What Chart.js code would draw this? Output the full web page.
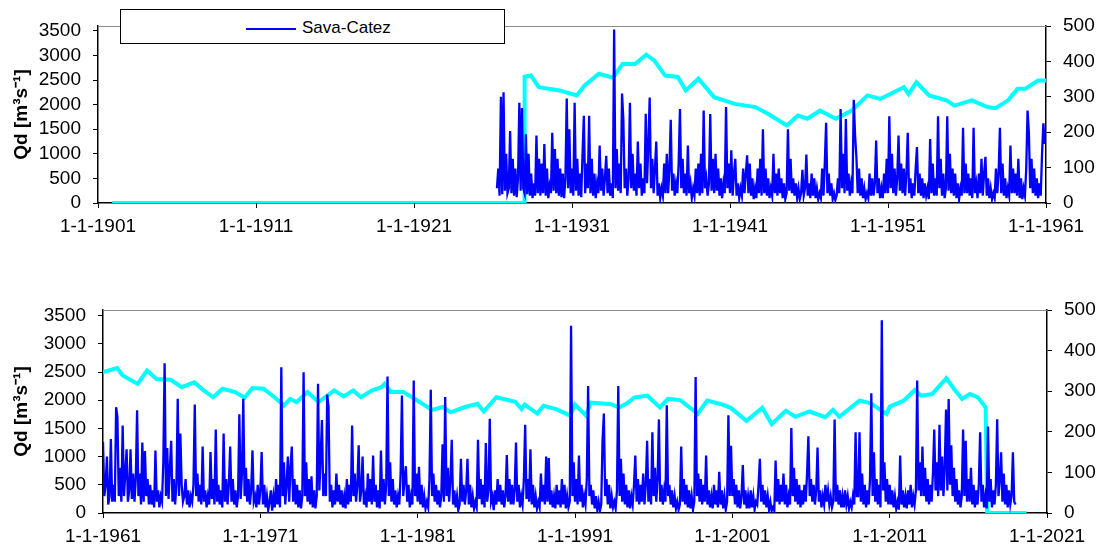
<!DOCTYPE html>
<html>
<head>
<meta charset="utf-8">
<script src="https://cdn.jsdelivr.net/npm/chart.js@4"></script>
<style>
body { margin: 0; background: #fff; width: 1105px; height: 553px; position: relative; overflow: hidden; font-family: "Liberation Sans", Arial, sans-serif; }
canvas { position: absolute; left: 0; }
#top { top: 0; }
#bottom { top: 280px; }
#legend { position: absolute; left: 120px; top: 9px; width: 383px; height: 33px; border: 1.5px solid #000; background: #fff; z-index: 2; }
#legend .line { position: absolute; left: 125px; top: 18px; width: 50px; height: 1.5px; background: #0000ff; }
#legend .label { position: absolute; left: 181px; top: 8px; font-size: 17px; line-height: 20px; color: #000; }
</style>
</head>
<body>
<canvas id="top" width="1105" height="250"></canvas>
<canvas id="bottom" width="1105" height="273"></canvas>
<div id="legend"><div class="line"></div><div class="label">Sava-Catez</div></div>
<script>
// daily discharge, read as one peak/trough per month
const topFlowStart = 1926.25;
const topFlow = [
  300,700,150,2160,180,2250,250,1000,200,
  300,1465,200,900,150,700,120,500,2040,250,1930,300,
  200,1400,180,1000,150,600,100,400,150,1370,200,900,
  150,800,200,1200,150,700,100,350,200,1430,250,1100,
  200,900,150,700,120,600,100,500,2125,300,1500,200,
  700,150,2040,250,900,150,600,120,1000,1775,200,800,
  300,1775,200,900,150,600,100,400,200,1170,250,700,
  150,500,960,200,700,150,400,100,3530,300,1100,250,
  800,200,2225,1700,300,700,150,500,2040,300,1000,250,
  600,150,1250,300,800,150,500,200,1815,400,1200,2145,
  300,900,200,700,1250,150,400,100,300,150,800,200,
  1000,200,700,1695,250,600,150,400,200,800,1910,300,
  900,200,600,150,1170,200,400,100,300,150,700,200,
  800,150,1000,200,1880,300,500,150,400,1810,250,900,
  200,1000,250,700,150,500,100,400,200,1950,300,800,
  200,1070,150,600,900,150,400,100,300,150,700,200,
  600,970,200,800,150,500,80,300,100,700,200,900,
  150,1500,200,700,150,500,100,300,150,1000,200,600,
  150,700,200,500,100,400,80,200,1500,250,900,200,
  500,150,400,100,300,80,200,675,150,300,985,150,
  400,100,600,150,500,100,300,80,200,100,700,150,
  800,1630,200,600,150,400,80,200,60,150,500,200,
  1910,300,1000,200,1710,250,600,150,400,200,2100,1370,
  940,200,700,150,500,100,300,80,200,100,600,150,
  500,150,400,1270,200,500,100,300,100,600,200,900,
  200,1765,300,1000,200,700,150,500,1370,250,800,200,
  700,150,600,1430,200,500,100,400,150,700,1140,200,
  600,150,500,100,400,150,300,80,1300,200,800,150,
  500,150,1765,300,900,150,600,100,300,1765,250,1000,
  200,700,150,600,100,400,80,300,150,1530,200,800,
  200,600,150,500,100,1530,200,400,100,600,200,900,
  150,600,940,150,500,100,300,80,200,100,700,200,
  600,1530,200,800,150,500,100,300,150,1170,200,700,
  200,600,150,900,100,500,80,300,150,700,1880,1430,
  300,900,200,700,150,500,100,400,150,1000,1620,1200
];

const bottomFlowStart = 1961;
const bottomFlow = [
  1257,300,500,1000,150,300,1310,200,500,200,1877,1700,
  300,800,200,1550,300,700,1130,200,400,1130,250,700,
  200,600,1820,300,700,150,1250,200,1100,300,600,150,
  500,150,400,100,1110,200,400,100,300,200,900,2655,
  300,1150,250,800,1280,200,600,150,500,2025,300,1410,
  500,200,300,600,150,400,100,300,200,500,1925,300,
  700,200,500,150,1180,200,400,100,300,150,1080,250,
  600,150,1480,200,500,150,400,100,1410,200,600,150,
  500,1180,200,600,150,400,100,300,1750,250,700,2025,
  300,800,200,600,150,400,1110,200,300,100,500,150,
  400,1080,150,500,100,300,50,200,400,40,300,100,
  600,150,500,100,2585,300,900,150,500,1000,200,800,
  1180,200,600,150,500,100,400,80,300,2497,300,900,
  200,600,150,650,100,400,80,300,2290,400,1000,1650,
  300,700,300,2100,1877,200,500,100,400,150,700,200,
  500,150,400,100,300,80,600,150,500,200,1550,300,
  700,200,500,1200,200,400,1000,150,300,100,700,200,
  600,150,1020,200,500,100,400,80,1110,200,600,150,
  500,2420,300,900,200,600,150,400,100,300,150,700,
  2085,300,600,830,200,500,100,300,150,2350,300,700,
  200,820,150,500,100,300,80,200,100,600,2185,300,
  700,200,500,150,400,100,300,1220,200,2055,300,800,
  200,600,1300,150,400,100,300,50,150,960,200,500,
  150,400,960,150,500,100,300,80,200,100,1300,250,
  600,150,500,100,1240,200,400,1670,200,300,50,400,
  150,600,200,500,150,400,100,300,1030,200,600,150,
  500,150,400,1250,200,500,100,300,150,600,1563,250,
  600,200,1130,150,500,100,300,80,200,100,700,200,
  500,150,1000,200,975,150,400,100,300,80,500,150,
  400,100,600,150,500,80,300,100,200,3320,300,900,
  200,600,150,1020,200,500,100,300,150,600,2250,300,
  500,150,400,80,300,50,200,40,150,1280,1765,300,
  600,150,500,80,300,100,200,80,400,2250,300,960,
  200,700,150,500,100,400,80,300,150,500,1020,200,
  600,150,500,200,700,150,500,1280,200,600,150,1430,
  300,800,200,600,1660,200,500,150,400,200,1910,300,
  500,150,400,100,300,80,200,60,150,1180,200,600,
  150,500,100,400,80,300,60,200,2410,300,700,200,
  600,150,500,200,1020,150,400,100,300,80,500,150,
  400,100,730,150,400,80,300,60,200,1735,300,1190,
  300,600,150,500,100,400,80,300,850,150,400,80,
  300,80,400,100,300,60,200,150,500,960,200,500,
  150,400,100,300,60,200,40,100,40,930,200,600,
  150,500,200,700,150,500,100,300,150,1505,300,800,
  200,600,150,500,100,400,150,500,200,700,1360,300,
  600,200,500,150,400,1160,200,400,100,300,150,500,
  200,400,150,300,100,200,1660,200,500,150,400,100,
  300,100,400,150,300,80,200,100,300,150,1430,300,
  300,1430,200,700,150,500,100,400,150,600,2125,300,
  1075,200,600,150,500,100,3420,400,900,200,600,150,
  500,150,400,100,300,80,200,60,1020,150,400,100,
  300,80,400,150,500,100,300,150,400,2350,400,900,
  300,1180,300,800,200,600,150,500,200,700,1480,400,
  900,300,1563,400,1000,300,800,1833,400,2020,500,1200,
  300,800,200,600,150,400,100,300,1480,300,1280,200,
  600,200,800,150,500,100,400,150,500,1430,200,500,
  100,300,80,1535,200,600,100,400,150,500,1660,300,
  600,1075,200,700,150,500,100,400,150,300,1075,200,
  150
];

// moving average on the right axis
const topAvgYears = [1901.9, 1928.0, 1928.0, 1928.4, 1928.9, 1930.2, 1931.3, 1931.8, 1932.7, 1933.6, 1934.2, 1935.0, 1935.7, 1936.2, 1936.9, 1937.7, 1938.2, 1939.0, 1940.0, 1941.3, 1942.6, 1943.4, 1944.6, 1945.3, 1945.9, 1946.7, 1947.7, 1948.7, 1949.7, 1950.5, 1952.0, 1952.3, 1952.8, 1953.6, 1954.7, 1955.2, 1956.3, 1957.3, 1957.8, 1958.6, 1959.2, 1959.7, 1960.5, 1961.0];
const topAvg = [0, 0, 357, 360, 327, 318, 304, 332, 365, 354, 393, 393, 419, 403, 360, 356, 318, 351, 299, 280, 271, 252, 219, 247, 238, 261, 238, 261, 304, 294, 327, 308, 341, 304, 290, 275, 290, 271, 268, 290, 323, 323, 346, 346];

const bottomAvgYears = [1961.0, 1961.9, 1962.25, 1963.2, 1963.8, 1964.4, 1965.3, 1966.0, 1966.8, 1967.4, 1968.0, 1968.6, 1969.4, 1970.0, 1970.5, 1971.2, 1971.9, 1972.5, 1972.9, 1973.3, 1974.0, 1974.7, 1975.7, 1976.3, 1976.9, 1977.4, 1978.1, 1978.7, 1978.9, 1979.3, 1980.1, 1980.9, 1981.9, 1982.6, 1983.1, 1984.0, 1984.8, 1985.2, 1986.0, 1987.2, 1987.6, 1987.8, 1988.6, 1989.0, 1989.8, 1990.7, 1991.0, 1991.7, 1992.0, 1993.3, 1993.8, 1994.3, 1994.8, 1995.6, 1996.4, 1996.9, 1997.7, 1998.8, 1999.4, 2000.3, 2000.9, 2001.9, 2002.9, 2003.5, 2004.4, 2005.0, 2005.9, 2006.9, 2007.4, 2007.8, 2009.1, 2009.8, 2010.8, 2011.0, 2011.9, 2012.6, 2013.0, 2013.7, 2014.6, 2015.1, 2015.6, 2016.1, 2016.6, 2017.1, 2017.2, 2019.7];
const bottomAvg = [347, 357, 339, 318, 351, 330, 328, 310, 322, 302, 285, 306, 298, 284, 308, 306, 285, 265, 281, 273, 298, 273, 302, 287, 302, 285, 302, 310, 318, 298, 298, 279, 254, 261, 248, 261, 269, 250, 285, 274, 256, 267, 245, 264, 256, 240, 267, 240, 272, 268, 260, 270, 285, 289, 260, 281, 278, 244, 277, 268, 259, 227, 259, 219, 252, 237, 250, 236, 254, 237, 277, 270, 244, 262, 277, 303, 289, 293, 332, 305, 281, 293, 285, 260, 0, 0];

const topTickYears = [1901, 1911, 1921, 1931, 1941, 1951, 1961];
const bottomTickYears = [1961, 1971, 1981, 1991, 2001, 2011, 2021];
const leftTicks = [0, 500, 1000, 1500, 2000, 2500, 3000, 3500];
const yTitle = 'Qd [m³s⁻¹]';

const topLine = {
  id: 'topLine',
  beforeDatasetsDraw(chart) {
    const { ctx, chartArea: a } = chart;
    ctx.save();
    ctx.strokeStyle = '#8c8c8c';
    ctx.lineWidth = 1;
    ctx.beginPath();
    ctx.moveTo(a.left, a.top + 0.5);
    ctx.lineTo(a.right, a.top + 0.5);
    ctx.stroke();
    ctx.restore();
  }
};

const font = { family: '"Liberation Sans", Arial, sans-serif', size: 19 };
const axisGrid = { drawOnChartArea: false, tickLength: 5, color: '#000', lineWidth: 1 };
const axisBorder = { color: '#000', width: 1.5 };

function makeChart(id, o) {
  new Chart(document.getElementById(id), {
    type: 'line',
    data: {
      datasets: [
        {
          data: o.flow.map((v, i) => ({ x: o.flowStart + i / 12, y: v })),
          borderColor: '#0000ff',
          borderWidth: 2.3,
          pointRadius: 0,
          tension: 0,
          yAxisID: 'y',
          order: 1
        },
        {
          data: o.avgYears.map((x, i) => ({ x: x, y: o.avg[i] })),
          borderColor: '#00ffff',
          borderWidth: 4,
          pointRadius: 0,
          tension: 0,
          yAxisID: 'y1',
          order: 2
        }
      ]
    },
    options: {
      responsive: false,
      animation: false,
      devicePixelRatio: 1,
      layout: { padding: { top: o.padTop, left: 0, right: 0, bottom: 0 } },
      plugins: { legend: { display: false }, tooltip: { enabled: false } },
      scales: {
        x: {
          type: 'linear',
          min: o.ticks[0],
          max: o.ticks[o.ticks.length - 1],
          afterBuildTicks: s => { s.ticks = o.ticks.map(v => ({ value: v })); },
          afterFit: s => { s.height = o.xHeight; },
          ticks: { callback: v => '1-1-' + v, font: font, color: '#000', padding: 7, maxRotation: 0, autoSkip: false },
          grid: axisGrid,
          border: axisBorder
        },
        y: {
          position: 'left',
          min: 0,
          max: 3600,
          afterBuildTicks: s => { s.ticks = leftTicks.map(v => ({ value: v })); },
          afterFit: s => { s.width = o.leftWidth; },
          ticks: { callback: v => String(v), font: font, color: '#000', padding: 12, autoSkip: false },
          grid: axisGrid,
          border: axisBorder,
          title: { display: true, text: yTitle, color: '#000', font: { family: font.family, size: 19, weight: 'bold' }, padding: { top: 10, bottom: 0 } }
        },
        y1: {
          position: 'right',
          min: 0,
          max: 500,
          afterFit: s => { s.width = o.rightWidth; },
          ticks: { stepSize: 100, callback: v => String(v), font: font, color: '#000', padding: 12, autoSkip: false },
          grid: axisGrid,
          border: axisBorder
        }
      }
    },
    plugins: [topLine]
  });
}

makeChart('top', {
  flow: topFlow, flowStart: topFlowStart, avg: topAvg, avgYears: topAvgYears,
  ticks: topTickYears, padTop: 26, xHeight: 47, leftWidth: 98, rightWidth: 59
});
makeChart('bottom', {
  flow: bottomFlow, flowStart: bottomFlowStart, avg: bottomAvg, avgYears: bottomAvgYears,
  ticks: bottomTickYears, padTop: 30, xHeight: 40, leftWidth: 103, rightWidth: 58
});
</script>
</body>
</html>
